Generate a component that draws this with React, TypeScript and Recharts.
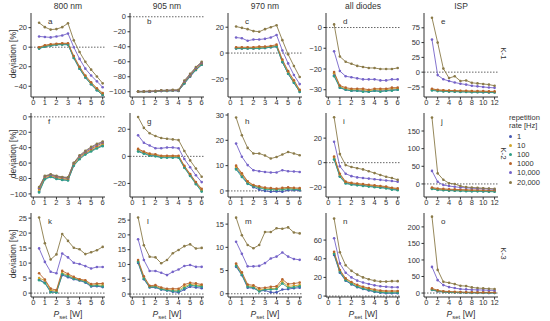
import { LineChart, Line, XAxis, YAxis, ReferenceLine } from "recharts"

const pSet = [0.5, 1, 1.5, 2, 2.5, 3, 3.5, 4, 4.5, 5, 5.5, 6]
const pIsp = [1, 2, 3, 4, 5, 6, 7, 8, 9, 10, 11, 12]
const rates = ["1", "10", "100", "1000", "10,000", "20,000"]
const colors = ["#4557b2", "#cfa62c", "#2f9e86", "#b8642c", "#7563c8", "#8a7a48"]
const columns = ["800 nm", "905 nm", "970 nm", "all diodes", "ISP"]
const rowNames = ["K-1", "K-2", "K-3"]

// series order: 1, 10, 100, 1000, 10000, 20000 Hz
const a800K1 = [
  [-1, 1, 2, 2.5, 3, 3, -11, -22, -31, -38, -44, -49],
  [-0.5, 1.5, 2.5, 3, 3.5, 3.5, -10, -21, -30, -37, -43, -48],
  [-1.5, 0.5, 1.5, 2.5, 2.5, 2.5, -11, -22, -31, -38, -44, -49],
  [0, 2, 3, 3.5, 4, 4, -9, -20, -29, -36, -42, -47],
  [11, 10.5, 10, 11, 12, 14, 0, -12, -22, -29, -35, -41],
  [25, 20.5, 18, 18.5, 20.5, 24.5, 7, -5, -15, -23, -30, -37],
]
const b905K1 = [
  [-100, -100, -100, -99.5, -99, -99, -98.5, -99, -89, -80, -71, -64],
  [-100, -100, -99.5, -99.5, -99, -98.5, -98.5, -98.5, -88, -79, -70, -63],
  [-100, -100, -100, -99.5, -99, -99, -98.5, -98.5, -89, -79, -71, -64],
  [-100, -99.5, -99.5, -99, -98.5, -98.5, -98, -98, -87, -78, -69, -62],
  [-99.5, -99.5, -99.5, -99, -98.5, -98, -98, -98, -86, -77, -68, -61],
  [-99.5, -99.5, -99, -99, -98, -98, -97.5, -97.5, -85, -76, -67, -60],
]
const c970K1 = [
  [3.5, 3.5, 3.5, 3.5, 4, 4, 4.5, 5, -7, -16, -23, -30],
  [4, 4, 4, 4, 4.5, 4.5, 5, 5.5, -6, -15, -22, -29],
  [3.5, 3.5, 3.5, 3.5, 3.5, 4, 4.5, 5, -7, -16, -23, -30],
  [4.5, 4.5, 4.5, 4.5, 5, 5, 5.5, 6.5, -5, -14, -21, -28.5],
  [12, 11.5, 9.5, 10.5, 10.5, 11, 12, 14, 2, -8, -17, -24],
  [20.5, 19.5, 18.5, 17, 16.5, 18.5, 20, 21.5, 10, -1, -10, -18.5],
]
const dAllK1 = [
  [-23, -29, -30, -30.5, -30.5, -30.5, -31, -30.5, -30.5, -30.5, -30, -30],
  [-22, -28.5, -29.5, -30, -30, -30, -30.5, -30, -30, -30, -29.5, -29.5],
  [-23.5, -29, -30, -30.5, -30.5, -31, -31, -30.5, -31, -30.5, -30.5, -30],
  [-21.5, -28, -29, -29.5, -29.5, -29.5, -30, -29.5, -29.5, -29.5, -29, -29],
  [-11.5, -21, -23.5, -24, -24.5, -25, -25, -25, -25.5, -25.5, -25, -25],
  [1.5, -14, -16.5, -17.5, -18.5, -19, -19.5, -19.5, -20, -20, -20, -19.5],
]
const eIspK1 = [
  [-30, -31, -32, -32, -32.5, -33, -33, -33.5, -33.5, -34, -34, -34],
  [-29, -30.5, -31, -31.5, -32, -32, -32.5, -32.5, -33, -33, -33, -33.5],
  [-31, -32, -32.5, -33, -33, -33.5, -33.5, -34, -34, -34, -34.5, -34.5],
  [-28, -30, -30.5, -31, -31, -31.5, -31.5, -32, -32, -32, -32.5, -32.5],
  [55, -5, -12, -15, -17.5, -19.5, -21, -23, -24, -25, -26, -26.5],
  [92, 50, 6, -10, -7, -15, -14, -18, -19, -20, -21, -23],
]
const f800K2 = [
  [-97, -80, -77.5, -80, -81.5, -82, -63, -54, -48, -44, -40, -37],
  [-95, -79, -76.5, -79, -80.5, -81, -62, -53, -47, -43, -39, -36],
  [-98, -81, -78, -80.5, -82, -82.5, -63.5, -55, -49, -45, -41, -38],
  [-93, -77.5, -75.5, -78, -79, -80, -60.5, -51.5, -46, -41.5, -37.5, -34],
  [-92, -77, -75, -77, -78.5, -79, -60, -51, -45, -40, -36, -33],
  [-91, -76.5, -74.5, -76.5, -78, -78.5, -59.5, -50, -44, -39, -35, -32],
]
const g905K2 = [
  [4, 2.5, 1, 0.5, -0.5, -0.5, -0.5, -0.5, -8, -14, -20, -25.5],
  [5, 3, 1.5, 1, 0, 0, 0, 0, -7.5, -13.5, -19.5, -25],
  [3.5, 2, 0.5, 0, -1, -1, -1, -1, -8.5, -14.5, -20.5, -26],
  [5.5, 3.5, 2, 1.5, 0.5, 0.5, 0.5, 0.5, -7, -13, -19, -24],
  [15.5, 10, 8, 6, 6, 6.5, 6.5, 6, -2, -8, -14, -19],
  [29, 21, 17, 15, 13.5, 13, 12.5, 12, 4, -3, -9, -15],
]
const h970K2 = [
  [9, 6, 3, 1.5, 0.5, 0, -0.3, -0.2, -0.3, 0.3, 0.3, 0.2],
  [9.5, 6.5, 3.5, 2, 1.5, 1, 0.8, 0.6, 0.8, 1, 0.8, 0.8],
  [8.5, 5.5, 2.8, 1.8, 1.2, 0.7, 0.5, 0.4, 0.5, 0.8, 0.6, 0.5],
  [10, 7, 3.8, 2.3, 1.8, 1.3, 1.1, 0.9, 1.2, 1.4, 1.2, 1.1],
  [18.7, 13.5, 10.2, 8.2, 7.8, 7.5, 7.3, 7.3, 8.2, 7.8, 7.7, 7.5],
  [29, 22, 17, 14.8, 14.8, 14, 12.8, 13.4, 14.4, 15.4, 14.8, 14.1],
]
const iAllK2 = [
  [3, -11, -16.5, -17.5, -18, -18.5, -19, -19.5, -20, -20.5, -21.5, -22],
  [4, -10, -16, -17, -17.5, -18, -18.5, -19, -19.5, -20, -21, -21.5],
  [2.5, -11.5, -17, -18, -18.5, -19, -19.5, -20, -20.5, -21, -22, -22.5],
  [5, -9, -15.5, -16.5, -17, -17.5, -18, -18.5, -19, -19.5, -20.5, -21],
  [17, -3, -9, -11, -12, -12.5, -13, -13.5, -14, -14.5, -15, -15.5],
  [37, 7, -2, -3.5, -4.5, -5.5, -7, -8.5, -10, -11.5, -12.5, -14],
]
const jIspK2 = [
  [-13, -16, -17, -18, -18.5, -19, -19.5, -20, -20, -20.5, -21, -21],
  [-12, -15, -16, -17, -17.5, -18, -18.5, -19, -19, -19.5, -20, -20],
  [-14, -17, -18, -19, -19.5, -20, -20.5, -21, -21, -21.5, -22, -22],
  [-10, -13, -14, -15, -15.5, -16, -16.5, -17, -17, -17.5, -18, -18],
  [37, 6, -3, -6, -8, -10, -11, -12, -13, -13.5, -14, -15],
  [188, 30, 12, 2, 0, -6, -9, -10, -11, -12, -13, -14],
]
const k800K3 = [
  [4.5, 3.5, 0.5, 0.3, 6, 5.3, 4.6, 4.2, 3.5, 2.2, 2.3, 2],
  [5, 4.2, 1, 0.6, 6.6, 6, 5, 4.5, 4, 2.6, 2.8, 2.6],
  [4.3, 3.3, 0.3, 0.2, 6.3, 5.6, 4.8, 4.3, 3.7, 2.4, 2.5, 2.2],
  [6.6, 4.5, 1.5, 1, 7.4, 6.4, 5.4, 4.6, 4.3, 3, 3.2, 3.2],
  [14.9, 10.4, 7.1, 6.6, 13.2, 11.9, 10.1, 9.7, 9, 8.2, 8.7, 8.7],
  [25.2, 16.6, 11.2, 12.9, 19.7, 17.4, 15.1, 14.6, 13, 13.6, 14.3, 15.4],
]
const l905K3 = [
  [10.5, 5, 2.2, 2.2, 1.5, 1.2, 0.8, 0.5, 1.5, 2.5, 2.2, 2],
  [11, 5.5, 2.5, 2.6, 1.8, 1.5, 1.3, 1.3, 2.5, 3.3, 3, 2.8],
  [10.8, 5.2, 2.4, 2.4, 1.6, 1.3, 1, 0.9, 2, 3, 2.7, 2.5],
  [11.5, 6, 2.8, 3, 2.2, 1.8, 1.8, 1.8, 3.2, 3.8, 3.6, 3.2],
  [18.5, 11.5, 7.8, 7.8, 7.2, 6.4, 7.5, 8.3, 9.5, 9.8, 9.2, 9.2],
  [25.9, 16.5, 12.6, 12.4, 10.4, 11.5, 13.8, 14.9, 16.2, 16.8, 15.4, 15.6],
]
const m970K3 = [
  [5.8, 4, 1.3, 1.2, 0.6, 0.7, 0.3, 0.3, 0.9, 1, 1.2, 1.3],
  [6.2, 4.3, 1.7, 1.5, 0.8, 1, 1.1, 1.2, 2.6, 1.6, 1.7, 1.9],
  [6, 4.1, 1.5, 1.3, 0.5, 0.9, 0.9, 1, 2.2, 1.3, 1.4, 1.6],
  [6.5, 4.6, 2, 1.8, 1.2, 1.3, 1.5, 1.6, 3.1, 2.1, 2.2, 2.4],
  [11.2, 8.6, 5.9, 5.9, 6, 6.6, 7.6, 8, 8.9, 8, 7.5, 7.3],
  [16.4, 12.6, 10.5, 9.8, 10.5, 13.3, 13.3, 14.1, 14, 14.3, 13.2, 13],
]
const nAllK3 = [
  [44, 25, 16.5, 12.5, 9.5, 7.5, 6, 4.5, 3.5, 3, 3, 3],
  [46, 27, 18, 14, 11, 9, 7.5, 6, 5, 4.5, 4.5, 4.5],
  [45, 26, 17, 13, 10, 8, 6.5, 5, 4, 3.5, 3.5, 3.5],
  [47.5, 28, 19, 15, 12, 10, 8.5, 7, 6, 5.5, 5.5, 5.5],
  [62, 35, 25, 20, 16.5, 14.5, 13, 11.5, 10.5, 10, 9.5, 9.5],
  [83, 47, 33, 27, 23, 20, 18, 16.5, 15.5, 15.5, 16, 16],
]
const oIspK3 = [
  [9, 5, 3, 2, 1.5, 1, 1, 0.5, 0.5, 0.5, 0, 0],
  [11, 6.5, 4, 3, 2.5, 2, 1.5, 1.5, 1, 1, 1, 1],
  [10, 6, 3.5, 2.5, 2, 1.5, 1.2, 1, 0.8, 0.7, 0.5, 0.5],
  [14, 8, 5.5, 4.5, 3.5, 3, 2.5, 2.5, 2, 2, 2, 2],
  [79, 39, 24, 18, 15, 12, 11, 10, 9.5, 9, 8.5, 8],
  [231, 70, 34, 31, 27, 22, 21, 17, 15, 14, 13, 12],
]

const setTicks = [0, 1, 2, 3, 4, 5, 6]
const ispTicks = [0, 2, 4, 6, 8, 10, 12]

const panels = [
  { id: "a", row: 0, col: 0, vals: a800K1, domain: [-51, 35], ticks: [-40, -20, 0, 20] },
  { id: "b", row: 0, col: 1, vals: b905K1, domain: [-107, 5], ticks: [-100, -80, -60, -40, -20, 0] },
  { id: "c", row: 0, col: 2, vals: c970K1, domain: [-34, 31], ticks: [-20, 0, 20] },
  { id: "d", row: 0, col: 3, vals: dAllK1, domain: [-33.5, 7], ticks: [-30, -20, -10, 0] },
  { id: "e", row: 0, col: 4, vals: eIspK1, domain: [-42, 100], ticks: [-25, 0, 25, 50, 75] },
  { id: "f", row: 1, col: 0, vals: f800K2, domain: [-104, 5], ticks: [-100, -80, -60, -40, -20, 0] },
  { id: "g", row: 1, col: 1, vals: g905K2, domain: [-30, 32], ticks: [-20, 0, 20] },
  { id: "h", row: 1, col: 2, vals: h970K2, domain: [-2.4, 30.8], ticks: [0, 10, 20, 30] },
  { id: "i", row: 1, col: 3, vals: iAllK2, domain: [-28, 40.5], ticks: [-20, 0, 20] },
  { id: "j", row: 1, col: 4, vals: jIspK2, domain: [-37, 201], ticks: [0, 50, 100, 150] },
  { id: "k", row: 2, col: 0, vals: k800K3, domain: [-1.3, 26.7], ticks: [0, 5, 10, 15, 20, 25] },
  { id: "l", row: 2, col: 1, vals: l905K3, domain: [-1, 27.4], ticks: [0, 5, 10, 15, 20, 25] },
  { id: "m", row: 2, col: 2, vals: m970K3, domain: [-0.7, 17.4], ticks: [0, 5, 10, 15] },
  { id: "n", row: 2, col: 3, vals: nAllK3, domain: [-1, 89], ticks: [0, 20, 40, 60] },
  { id: "o", row: 2, col: 4, vals: oIspK3, domain: [-12, 242], ticks: [0, 50, 100, 150, 200] },
]

const colLeft = [31, 130, 228, 326, 424]
const rowTop = [13, 113, 213]
const areaW = 74
const areaH = 84
const yW = 30
const padTop = 4
const padRight = 4
const xH = 12
const font = "'Liberation Sans', Arial, sans-serif"
const ink = "#333"

const fmt = (v: number) => String(v).replace("-", "\u2212")

function Panel({ p }: { p: (typeof panels)[number] }) {
  const isp = p.col === 4
  const xs = isp ? pIsp : pSet
  const data = xs.map((x, i) => {
    const row: Record<string, number> = { x }
    p.vals.forEach((s, k) => (row["s" + k] = s[i]))
    return row
  })
  const tickStyle = { fontSize: 7.5, fill: ink, fontFamily: font }
  return (
    <div style={{ position: "absolute", left: colLeft[p.col] - yW, top: rowTop[p.row] - padTop }}>
      <LineChart
        width={yW + areaW + padRight}
        height={padTop + areaH + xH}
        data={data}
        margin={{ top: padTop, right: padRight, bottom: 0, left: 0 }}
      >
        <XAxis
          dataKey="x"
          type="number"
          domain={isp ? [-0.4, 12.6] : [-0.2, 6.2]}
          ticks={isp ? ispTicks : setTicks}
          interval={0}
          height={xH}
          tick={tickStyle}
          tickSize={2.5}
          tickMargin={0}
          stroke={ink}
          allowDataOverflow
        />
        <YAxis
          type="number"
          domain={p.domain}
          ticks={p.ticks}
          interval={0}
          width={yW}
          tick={tickStyle}
          tickSize={2.5}
          tickMargin={1.5}
          tickFormatter={fmt}
          stroke={ink}
          allowDataOverflow
        />
        <ReferenceLine y={0} stroke="#555" strokeDasharray="1.5 1.5" strokeWidth={0.9} />
        {p.vals.map((_, k) => (
          <Line
            key={k}
            dataKey={"s" + k}
            type="linear"
            stroke={colors[k]}
            strokeWidth={0.9}
            dot={{ r: 1.3, fill: colors[k], stroke: colors[k], strokeWidth: 0 }}
            isAnimationActive={false}
          />
        ))}
      </LineChart>
      <div
        style={{
          position: "absolute",
          left: yW + 17,
          top: padTop + 4,
          fontSize: 8,
          fontFamily: font,
          color: ink,
        }}
      >
        {p.id}
      </div>
    </div>
  )
}

export default function App() {
  const abs = { position: "absolute" as const, fontFamily: font, color: ink }
  return (
    <div style={{ position: "absolute", left: 0, top: 0, width: 550, height: 321, background: "#fff", overflow: "hidden" }}>
      {panels.map((p) => (
        <Panel key={p.id} p={p} />
      ))}
      {columns.map((c, i) => (
        <div key={c} style={{ ...abs, left: colLeft[i], width: areaW, top: 1, fontSize: 8.5, textAlign: "center" }}>
          {c}
        </div>
      ))}
      {rowTop.map((t, r) => (
        <div
          key={"y" + r}
          style={{
            ...abs,
            left: 13 - 40,
            width: 80,
            top: t + areaH / 2 - 6,
            fontSize: 8.5,
            textAlign: "center",
            transform: "rotate(-90deg)",
          }}
        >
          deviation [%]
        </div>
      ))}
      {rowNames.map((k, r) => (
        <div
          key={k}
          style={{
            ...abs,
            left: 503 - 15,
            width: 30,
            top: rowTop[r] + areaH / 2 - 6,
            fontSize: 8,
            textAlign: "center",
            transform: "rotate(90deg)",
          }}
        >
          {k}
        </div>
      ))}
      <svg width={550} height={321} style={{ position: "absolute", left: 0, top: 0, pointerEvents: "none" }}>
        {colLeft.map((l, i) => (
          <text key={"px" + i} x={l + areaW / 2} y={317} textAnchor="middle" fontSize={8.5} fontFamily={font} fill={ink}>
            <tspan fontStyle="italic">P</tspan>
            <tspan fontSize={6} dy={1.5}>set</tspan>
            <tspan dy={-1.5}> [W]</tspan>
          </text>
        ))}
      </svg>
      <div style={{ ...abs, left: 509, top: 114, fontSize: 7.5, lineHeight: "8px" }}>
        repetition
        <br />
        rate [Hz]
      </div>
      {rates.map((r, i) => (
        <div key={r} style={{ ...abs, left: 509, top: 132 + i * 9.1, fontSize: 7.5, lineHeight: "9px", whiteSpace: "nowrap" }}>
          <span
            style={{
              display: "inline-block",
              width: 3,
              height: 3,
              borderRadius: 2,
              background: colors[i],
              marginRight: 5,
              verticalAlign: 1,
            }}
          />
          {r}
        </div>
      ))}
    </div>
  )
}
